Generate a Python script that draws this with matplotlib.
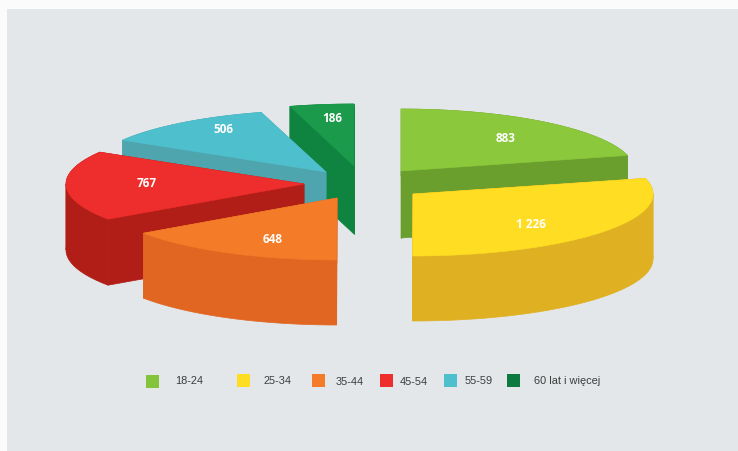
import numpy as np
import matplotlib
matplotlib.use("Agg")
import matplotlib.pyplot as plt
from matplotlib.patches import Rectangle

categories = ["18-24", "25-34", "35-44", "45-54", "55-59", "60 lat i więcej"]
values = [883, 1226, 648, 767, 506, 186]
value_labels = ["883", "1 226", "648", "767", "506", "186"]

top_colors = ["#8CC83C", "#FFDD22", "#F47B28", "#EE2E2C", "#4EBFCC", "#1A9A4A"]
side_colors = ["#6A9F2E", "#DEB022", "#E06622", "#B01E17", "#4FA5AE", "#0E8440"]
legend_colors = ["#84C43A", "#FFDD22", "#F47B28", "#EE2E2C", "#4EBFCC", "#0C7A3E"]
apexes = [(401, 172), (413, 195), (337, 199), (304, 185), (326, 173), (354, 167)]
radii_x = [234, 240, 235, 238, 237, 234]
depths = [67, 65, 65, 66, 66, 68]
label_pos = [(506, 139), (531, 225), (273, 240), (147, 184), (223, 130), (332, 119)]
draw_order = [0, 1, 5, 4, 3, 2]
legend_box_x = [152, 243, 318, 386, 450, 513]
legend_box_y = [382, 381, 381, 381, 381, 381]
legend_text_x = [175, 264, 336, 400, 465, 534]
legend_text_y = [381, 381, 382, 382, 381, 381]
RY = 62
LEGEND_FONT = ["Liberation Sans", "DejaVu Sans"]

fig = plt.figure(figsize=(7.38, 4.52), dpi=100, facecolor="#FBFBFB")
ax = fig.add_axes([0, 0, 1, 1])
ax.set_xlim(0, 738)
ax.set_ylim(452, 0)
ax.axis("off")
ax.add_patch(Rectangle((7, 10), 731, 442, facecolor="#E4E7E9", edgecolor="none", zorder=0))

fractions = np.array(values) / sum(values)
edges = np.concatenate([[0], np.cumsum(fractions)]) * 2 * np.pi

z = 1
for i in draw_order:
    ax0, ay0 = apexes[i]
    t = np.linspace(edges[i], edges[i + 1], 120)
    # split the arc where it turns back horizontally, so each wall band is simple
    for turn in (np.pi / 2, 3 * np.pi / 2):
        if edges[i] < turn < edges[i + 1]:
            t = np.sort(np.append(t, turn))
    x = ax0 + radii_x[i] * np.sin(t)
    y = ay0 - RY * np.cos(t)
    d = depths[i]
    cuts = [0] + [int(np.argmin(np.abs(t - turn))) for turn in (np.pi / 2, 3 * np.pi / 2)
                  if edges[i] < turn < edges[i + 1]] + [len(t) - 1]
    for a, b in zip(cuts[:-1], cuts[1:]):
        sx, sy = x[a:b + 1], y[a:b + 1]
        ax.fill(np.concatenate([sx, sx[::-1]]), np.concatenate([sy, sy[::-1] + d]),
                color=side_colors[i], lw=0.5, zorder=z)
    for ex, ey in ((x[0], y[0]), (x[-1], y[-1])):
        ax.fill([ax0, ex, ex, ax0], [ay0, ey, ey + d, ay0 + d],
                color=side_colors[i], lw=0.5, zorder=z)
    ax.fill(np.concatenate([[ax0], x]), np.concatenate([[ay0], y]),
            color=top_colors[i], lw=0.4, zorder=z + 1)
    ax.text(*label_pos[i], value_labels[i], color="white", fontsize=8.5, fontweight="bold",
            ha="center", va="center", family="Open Sans", zorder=20)
    z += 2

for i, c in enumerate(categories):
    ax.add_patch(Rectangle((legend_box_x[i] - 6.5, legend_box_y[i] - 6.5), 13, 13,
                           facecolor=legend_colors[i], edgecolor="none", zorder=20))
    ax.text(legend_text_x[i], legend_text_y[i], c, color="#3C3C3C", fontsize=7.9,
            ha="left", va="center", family=LEGEND_FONT, zorder=20)

fig.savefig("out.png", dpi=100, facecolor=fig.get_facecolor())
